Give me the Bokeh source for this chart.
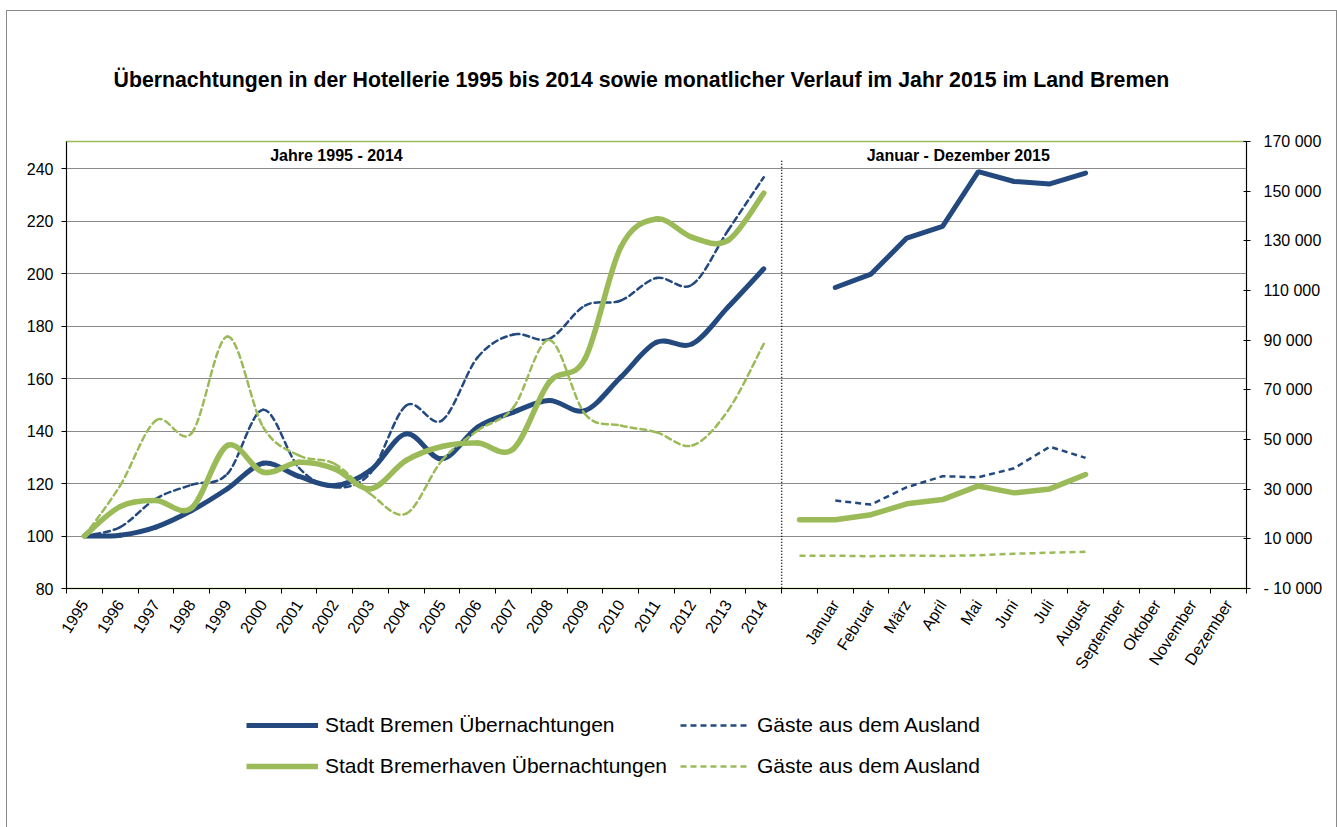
from bokeh.plotting import figure
from bokeh.layouts import column
from bokeh.models import (Range1d, LinearAxis, FixedTicker, Legend, LegendItem,
                          Label, ColumnDataSource)
from bokeh.embed import file_html
from bokeh.resources import INLINE

NaN = float("nan")

# ---------------- data ----------------
years = ["1995", "1996", "1997", "1998", "1999", "2000", "2001", "2002", "2003", "2004",
         "2005", "2006", "2007", "2008", "2009", "2010", "2011", "2012", "2013", "2014"]
months = ["Januar", "Februar", "März", "April", "Mai", "Juni", "Juli", "August",
          "September", "Oktober", "November", "Dezember"]

# index 1995 = 100 (left axis)
bremen_idx = [100, 100.3, 103.4, 109.7, 118.0, 127.7, 122.7, 119.2, 125.0, 138.9,
              129.4, 141.5, 147.2, 151.6, 147.8, 160.5, 173.8, 173.2, 187.2, 201.8]
bremen_gaeste_idx = [100, 103.4, 114.2, 119.5, 123.7, 148.1, 126.0, 118.6, 124.0, 149.7,
                     144.0, 168.1, 176.8, 175.1, 187.8, 189.7, 198.3, 195.8, 216.4, 236.7]
bhv_idx = [100, 111.2, 113.5, 110.7, 134.5, 124.3, 128.1, 125.6, 118.0, 128.8,
           134.1, 135.4, 133.2, 158.6, 167.5, 210.0, 220.8, 213.8, 212.6, 230.6]
bhv_gaeste_idx = [100, 119.2, 144.0, 139.2, 176.0, 141.5, 130.7, 127.5, 116.0, 108.5,
                  128.8, 140.2, 149.0, 174.7, 146.5, 142.1, 139.5, 134.5, 147.8, 173.2]

# monthly 2015 absolute values (right axis); first slot is the empty slot before "Januar"
bremen_m = [NaN, 111200, 116600, 131100, 135800, 157900, 153900, 152900, 157300, NaN, NaN, NaN, NaN]
bremen_gaeste_m = [NaN, 25400, 23800, 30800, 35200, 34800, 38400, 47100, 42600, NaN, NaN, NaN, NaN]
bhv_m = [17700, 17700, 19700, 24100, 25800, 31300, 28500, 30100, 35900, NaN, NaN, NaN, NaN]
bhv_gaeste_m = [3200, 3200, 3000, 3300, 3100, 3400, 4000, 4400, 4800, NaN, NaN, NaN, NaN]

left_ticks = [80, 100, 120, 140, 160, 180, 200, 220, 240]
right_ticks = [-10000, 10000, 30000, 50000, 70000, 90000, 110000, 130000, 150000, 170000]
right_labels = ["- 10 000", "10 000", "30 000", "50 000", "70 000", "90 000",
                "110 000", "130 000", "150 000", "170 000"]

title_text = ("Übernachtungen in der Hotellerie 1995 bis 2014 sowie monatlicher "
              "Verlauf im Jahr 2015 im Land Bremen")
legend_labels = ["Stadt Bremen Übernachtungen", "Gäste aus dem Ausland",
                 "Stadt Bremerhaven Übernachtungen", "Gäste aus dem Ausland"]

# ---------------- styles ----------------
BLUE = "#23497e"
GREEN = "#9bbb59"
FONT = "Liberation Sans"

slots = years + [""] + months
n_slots = len(slots)
year_x = [i + 0.5 for i in range(len(years))]
month_x = [len(years) + i + 0.5 for i in range(len(months) + 1)]

W = 1329
H_MAIN = 680
H_LEG = 136

p = figure(width=W, height=H_MAIN, x_range=Range1d(0, n_slots), y_range=Range1d(80, 250.3),
           output_backend="svg", toolbar_location=None, title=title_text,
           min_border_left=59, min_border_right=90, min_border_top=130,
           min_border_bottom=H_MAIN - 577)
p.outline_line_color = GREEN
p.outline_line_width = 1.5
p.background_fill_color = "white"
p.border_fill_color = "white"

p.title.align = "left"
p.title.offset = 47
p.title.standoff = 99
p.title.text_font = FONT
p.title.text_font_style = "bold"
p.title.text_font_size = "21.3px"
p.title.text_color = "black"

p.extra_y_ranges = {"right": Range1d(-10000, 170000)}

# grid
p.xgrid.visible = False
p.ygrid.grid_line_color = "#8a8a8a"
p.ygrid.grid_line_width = 1.2

# left axis
la = p.yaxis[0]
la.ticker = FixedTicker(ticks=left_ticks)
la.axis_line_color = "black"
la.major_tick_out = 5
la.major_tick_in = 0
la.minor_tick_line_color = None
la.major_label_standoff = 8
la.major_label_text_font = FONT
la.major_label_text_font_size = "16px"
la.major_label_text_color = "black"

# right axis
ra = LinearAxis(y_range_name="right", ticker=FixedTicker(ticks=right_ticks),
                major_label_overrides={t: s for t, s in zip(right_ticks, right_labels)})
ra.axis_line_color = "black"
ra.major_tick_out = 4
ra.major_tick_in = 3
ra.minor_tick_line_color = None
ra.major_label_standoff = 13
ra.major_label_text_font = FONT
ra.major_label_text_font_size = "16px"
ra.major_label_text_color = "black"
p.add_layout(ra, "right")

# bottom axis
xa = p.xaxis[0]
label_ticks = [i + 0.5 for i, s in enumerate(slots) if s]
xa.ticker = FixedTicker(ticks=label_ticks, minor_ticks=list(range(n_slots + 1)))
xa.major_label_overrides = {i + 0.5: s for i, s in enumerate(slots) if s}
xa.major_tick_line_color = None
xa.minor_tick_line_color = "black"
xa.minor_tick_out = 5
xa.minor_tick_in = 0
xa.axis_line_color = "black"
xa.major_label_orientation = 1.0
xa.major_label_standoff = 7
xa.major_label_text_font = FONT
xa.major_label_text_font_size = "16px"
xa.major_label_text_color = "black"


def bezier_source(xs, ys):
    n = len(xs)
    d = dict(x0=[], y0=[], x1=[], y1=[], cx0=[], cy0=[], cx1=[], cy1=[])
    for i in range(n - 1):
        xp, yp = (xs[i - 1], ys[i - 1]) if i > 0 else (xs[i], ys[i])
        xq, yq = (xs[i + 2], ys[i + 2]) if i + 2 < n else (xs[i + 1], ys[i + 1])
        d["x0"].append(xs[i]); d["y0"].append(ys[i])
        d["x1"].append(xs[i + 1]); d["y1"].append(ys[i + 1])
        d["cx0"].append(xs[i] + (xs[i + 1] - xp) / 6.0)
        d["cy0"].append(ys[i] + (ys[i + 1] - yp) / 6.0)
        d["cx1"].append(xs[i + 1] - (xq - xs[i]) / 6.0)
        d["cy1"].append(ys[i + 1] - (yq - ys[i]) / 6.0)
    return ColumnDataSource(d)


def smooth(ys, color, width, dash="solid"):
    p.bezier(x0="x0", y0="y0", x1="x1", y1="y1", cx0="cx0", cy0="cy0", cx1="cx1", cy1="cy1",
             source=bezier_source(year_x, ys), line_color=color, line_width=width,
             line_dash=dash, line_cap="round")


# yearly smoothed lines (left axis)
smooth(bremen_idx, BLUE, 5)
smooth(bremen_gaeste_idx, BLUE, 2.5, "6 4")
smooth(bhv_idx, GREEN, 5.5)
smooth(bhv_gaeste_idx, GREEN, 2.5, "6 4")

# monthly lines (right axis)
series_styles = [
    (bremen_m, BLUE, 5, "solid"),
    (bremen_gaeste_m, BLUE, 2.5, "6 4"),
    (bhv_m, GREEN, 5.5, "solid"),
    (bhv_gaeste_m, GREEN, 2.5, "6 4"),
]
for ys, c, w, dsh in series_styles:
    p.line(month_x, ys, y_range_name="right", line_color=c, line_width=w, line_dash=dsh,
           line_cap="round" if dsh == "solid" else "butt")

# dotted separator between years and months
p.segment(x0=[len(years)], y0=[243], x1=[len(years)], y1=[70],
          line_color="black", line_width=1.5, line_dash="1 2")

# section headers
p.add_layout(Label(x=7.55, y=245, text="Jahre 1995 - 2014", text_align="center",
                   text_baseline="middle", text_font=FONT, text_font_style="bold",
                   text_font_size="16px", text_color="black"))
p.add_layout(Label(x=24.94, y=245, text="Januar - Dezember 2015", text_align="center",
                   text_baseline="middle", text_font=FONT, text_font_style="bold",
                   text_font_size="16px", text_color="black"))

# ---------------- legend strip below the chart ----------------
q = figure(width=W, height=H_LEG, x_range=Range1d(0, 1), y_range=Range1d(0, 1),
           output_backend="svg", toolbar_location=None, min_border=0,
           x_axis_location=None, y_axis_location=None)
q.outline_line_color = None
q.grid.visible = False
q.background_fill_color = "white"
q.border_fill_color = "white"

leg_r = []
for ys, c, w, dsh in series_styles:
    # same series (off the visible range of this strip) give the legend its line styles
    leg_r.append(q.line(month_x, ys, line_color=c, line_width=w, line_dash=dsh,
                        line_cap="butt"))


def make_legend(items, loc, standoff, gw):
    lg = Legend(items=items, location=loc, orientation="vertical", padding=0, margin=0,
                spacing=17, glyph_width=gw, glyph_height=24, label_height=24,
                label_standoff=standoff, label_text_font=FONT,
                label_text_font_size="21px", label_text_color="black",
                border_line_alpha=0, background_fill_alpha=0)
    q.add_layout(lg, "center")


make_legend([LegendItem(label=legend_labels[0], renderers=[leg_r[0]]),
             LegendItem(label=legend_labels[2], renderers=[leg_r[2]])], (180, 49), 7, 72)
make_legend([LegendItem(label=legend_labels[1], renderers=[leg_r[1]]),
             LegendItem(label=legend_labels[3], renderers=[leg_r[3]])], (614, 49), 9, 68)

layout = column(p, q, spacing=0, margin=(11, 0, 0, 7),
                styles={"outline": "1px solid #8a8a8a"})

open("out.html", "w").write(file_html(layout, INLINE))
